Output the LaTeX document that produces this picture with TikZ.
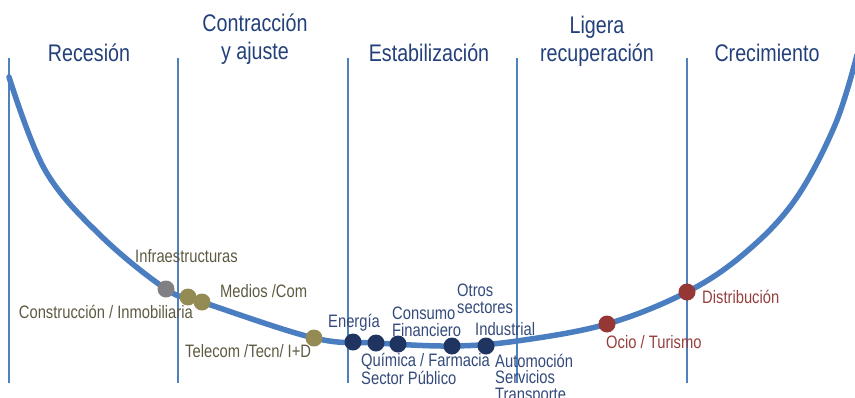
\documentclass[tikz,border=0pt]{standalone}
\usepackage{fontspec}
\setmainfont{Liberation Sans}[FakeStretch=0.82]
\usetikzlibrary{positioning}
\definecolor{curva}{RGB}{74,126,193}
\definecolor{linea}{RGB}{79,129,189}
\definecolor{titulo}{RGB}{35,64,122}
\definecolor{gris}{RGB}{128,128,132}
\definecolor{oliva}{RGB}{148,138,84}
\definecolor{olivatxt}{RGB}{94,90,66}
\definecolor{marino}{RGB}{31,52,96}
\definecolor{marinotxt}{RGB}{52,74,122}
\definecolor{rojo}{RGB}{149,55,53}
\definecolor{rojotxt}{RGB}{150,62,62}
\tikzstyle{fase} = [align=center, text=titulo, inner sep=0pt, font=\fontsize{24}{28}\selectfont]
\tikzstyle{punto} = [circle, minimum size=17pt, inner sep=0pt]
\tikzstyle{etiq} = [align=left, inner sep=0pt, font=\fontsize{18}{16.5}\selectfont]
\tikzstyle{divisor} = [draw=linea, line width=1.2pt]

\begin{document}
\begin{tikzpicture}[x=1pt, y=-1pt]
\useasboundingbox (0,0) rectangle (855,397);
% divisiones de fases
\draw[divisor] (9,58) -- (9,383);
\draw[divisor] (178,58) -- (178,383);
\draw[divisor] (348,58) -- (348,383);
\draw[divisor] (517,58) -- (517,383);
\draw[divisor] (687,58) -- (687,383);
% fases (base = ultima linea)
\node[fase, anchor=base] (rec) at (89,61) {Recesión};
\node[fase, anchor=base] (con) at (255,59) {Contracción\\y ajuste};
\node[fase, anchor=base] (est) at (429,61) {Estabilización};
\node[fase, anchor=base] (lig) at (597,61) {Ligera\\recuperación};
\node[fase, anchor=base] (cre) at (767,61) {Crecimiento};
% puntos de la curva
\coordinate (gr) at (166,289);
\coordinate (ol1) at (188,297);
\coordinate (ol2) at (202,302);
\coordinate (ol3) at (314,338);
\coordinate (ma1) at (353,342);
\coordinate (ma2) at (376,343);
\coordinate (ma3) at (398,344);
\coordinate (ma4) at (452,346);
\coordinate (ma5) at (486,346);
\coordinate (ro1) at (607,324);
\coordinate (ro2) at (687,292);
\draw[curva, line width=5.5pt, line cap=round] plot[smooth, tension=0.6] coordinates {
  (9,77) (45,170) (100,235) (gr) (ol2) (ol3) (ma2) (ma4) (517,341) (ro1) (ro2)
  (745,253) (795,200) (835,125) (857,55)};
\node[punto, fill=gris] (infra) at (gr) {};
\node[punto, fill=oliva] (medios) at (ol1) {};
\node[punto, fill=oliva] (telecom) at (ol2) {};
\node[punto, fill=oliva] (energia) at (ol3) {};
\node[punto, fill=marino] (quimica) at (ma1) {};
\node[punto, fill=marino] (consumo) at (ma2) {};
\node[punto, fill=marino] (sector) at (ma3) {};
\node[punto, fill=marino] (otros) at (ma4) {};
\node[punto, fill=marino] (industrial) at (ma5) {};
\node[punto, fill=rojo] (ocio) at (ro1) {};
\node[punto, fill=rojo] (distrib) at (ro2) {};
% etiquetas
\node[etiq, text=olivatxt, anchor=base west] (tinfra) at (135,262) {Infraestructuras};
\node[etiq, text=olivatxt, anchor=base east] (tcons) at (193,318) {Construcción / Inmobiliaria};
\node[etiq, text=olivatxt, anchor=base west] (tmed) at (220,297) {Medios /Com};
\node[etiq, text=olivatxt, anchor=base west] (ttel) at (185,357) {Telecom /Tecn/ I+D};
\node[etiq, text=marinotxt, anchor=base west] (tene) at (328,327) {Energía};
\node[etiq, text=marinotxt, anchor=base west] (tconsumo) at (392,336) {Consumo\\Financiero};
\node[etiq, text=marinotxt, anchor=base west] (totros) at (457,313) {Otros\\sectores};
\node[etiq, text=marinotxt, anchor=base west] (tind) at (475,335) {Industrial};
\node[etiq, text=marinotxt, anchor=base west] (tqui) at (361,384) {Química / Farmacia\\Sector Público};
\node[etiq, text=marinotxt, anchor=base west] (taut) at (495,400) {Automoción\\Servicios\\Transporte};
\node[etiq, text=rojotxt, anchor=base west] (tdis) at (702,303) {Distribución};
\node[etiq, text=rojotxt, anchor=base west] (toci) at (606,348) {Ocio / Turismo};
\end{tikzpicture}
\end{document}
